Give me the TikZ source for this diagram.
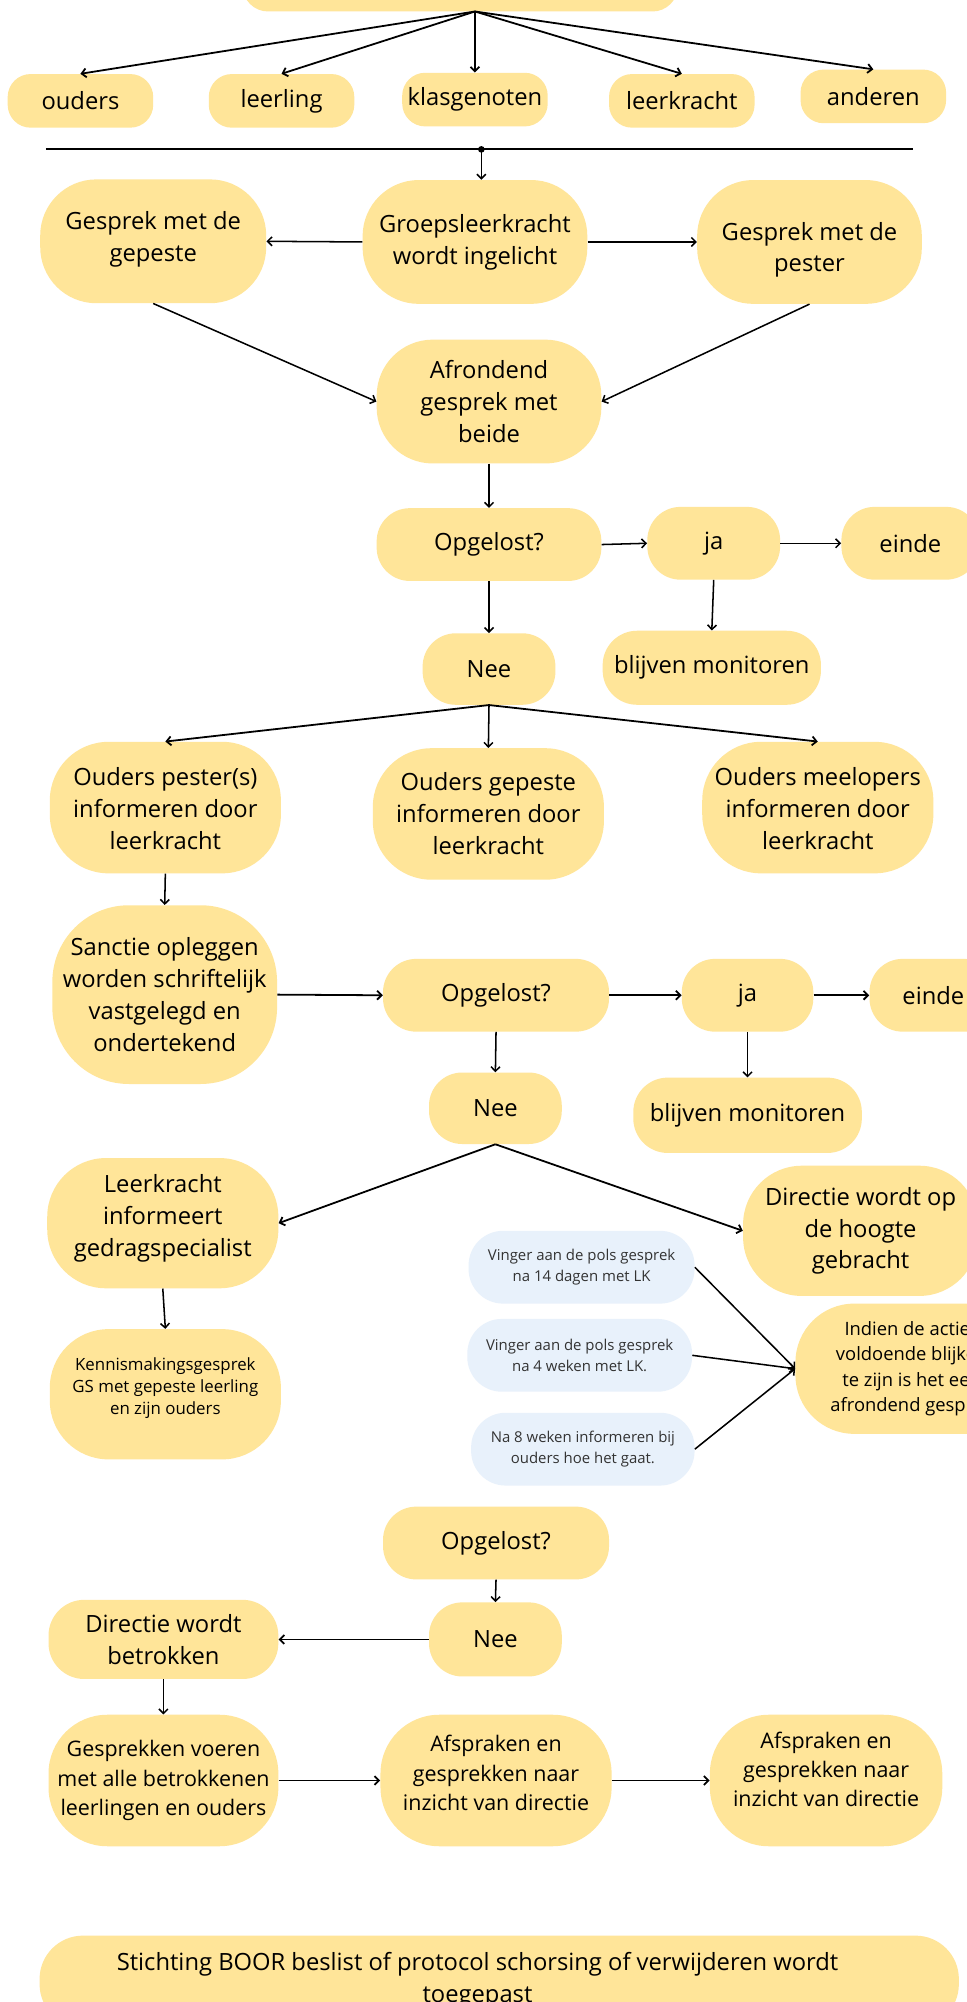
\documentclass[tikz,border=0pt]{standalone}
\usepackage{fontspec}
\setmainfont{Open Sans}
\usetikzlibrary{arrows.meta}
\definecolor{ylw}{HTML}{FFE599}
\definecolor{lblue}{HTML}{E8F1FB}
\definecolor{bluetext}{HTML}{333333}
\newcommand\fmain{\fontsize{18.6pt}{25pt}\selectfont}
\newcommand\fbottom{\fontsize{16.8pt}{23pt}\selectfont}
\newcommand\fblue{\fontsize{11.7pt}{16pt}\selectfont}
\newcommand\fkenn{\fontsize{13.2pt}{17.5pt}\selectfont}
\newcommand\findien{\fontsize{14.4pt}{19.6pt}\selectfont}
\newcommand\shiftup[2]{\raisebox{#1}[\height][\depth]{\begin{tabular}{@{}c@{}}#2\end{tabular}}}
\tikzset{
  yb/.style={fill=ylw, inner sep=0pt, align=center, font=\fmain, text=black},
  bb/.style={fill=lblue, inner sep=0pt, align=center, font=\fblue, text=bluetext},
  sz/.style n args={3}{minimum width=#1pt, minimum height=#2pt, rounded corners=#3pt},
  arr/.style={draw=black, line width=1.2pt, -{Straight Barb[length=3.5pt,width=7pt]}},
}
\begin{document}
\begin{tikzpicture}[x=1pt,y=-1pt]
\fill[white] (0,0) rectangle (757,1568);
\useasboundingbox (0,0) rectangle (757,1568);

% top box (clipped)
\node[yb, sz={341}{60}{20}] (top) at (360.5,-21) {};
\coordinate (fan) at (372,9);

% row 1
\node[yb, sz={114}{42}{18}] (ouders) at (63,79) {ouders};
\node[yb, sz={114}{42}{18}] (leerling) at (220.5,79) {leerling};
\node[yb, sz={114}{42}{18}] (klas) at (372,78) {klasgenoten};
\node[yb, sz={114}{42}{18}] (lkr) at (534,79) {leerkracht};
\node[yb, sz={114}{42}{18}] (anderen) at (684,75.5) {anderen};
\foreach \t in {ouders,leerling,klas,lkr,anderen}
  \draw[arr, line width=1.4pt] (fan) -- (\t.north);

% separator
\coordinate (sepL) at (36,117);
\coordinate (sepR) at (715,117);
\coordinate (sep) at (377,117);
\draw[line width=1.4pt] (sepL) -- (sepR);
\fill (sep) circle (2.6pt);

% row 2
\node[yb, sz={177}{97}{44}] (gepeste) at (120,189) {\shiftup{2pt}{Gesprek met de\\gepeste}};
\node[yb, sz={176}{97}{44}] (groeps) at (372,189.5) {Groepsleerkracht\\wordt ingelicht};
\node[yb, sz={176}{97}{44}] (pester) at (634,189.5) {\shiftup{-6pt}{Gesprek met de\\pester}};
\node[yb, sz={176}{97}{44}] (afr) at (383,314.5) {Afrondend\\gesprek met\\beide};
\draw[arr] (sep) -- (sep |- groeps.north);
\draw[arr] (groeps.west) -- (gepeste.east);
\draw[arr] (groeps.east) -- (pester.west);
\draw[arr] (gepeste.south) -- (afr.west);
\draw[arr] (pester.south) -- (afr.east);

% Opgelost 1
\node[yb, sz={176}{57}{26}] (op1) at (383,426.5) {Opgelost?};
\node[yb, sz={104}{57}{26}] (ja1) at (559,425.5) {ja};
\node[yb, sz={108}{57}{26}] (einde1) at (713,425.5) {einde};
\node[yb, sz={104}{56}{26}] (nee1) at (383,524) {Nee};
\node[yb, sz={171}{58}{27}] (mon1) at (557.5,523) {blijven monitoren};
\draw[arr] (afr.south) -- (op1.north);
\draw[arr] (op1.east) -- (ja1.west);
\draw[arr] (ja1.east) -- (einde1.west);
\draw[arr] (op1.south) -- (nee1.north);
\draw[arr] (ja1.south) -- (mon1.north);

% Ouders row
\node[yb, sz={181}{103}{46}] (oup) at (129.5,632.5) {\shiftup{-3pt}{Ouders pester(s)\\informeren door\\leerkracht}};
\node[yb, sz={181}{103}{46}] (oug) at (382.5,637.5) {\shiftup{-2pt}{Ouders gepeste\\informeren door\\leerkracht}};
\node[yb, sz={181}{103}{46}] (oum) at (640.5,632.5) {\shiftup{-3pt}{Ouders meelopers\\informeren door\\leerkracht}};
\draw[arr, line width=1.4pt] (nee1.south) -- (oup.north);
\draw[arr] (nee1.south) -- (oug.north);
\draw[arr, line width=1.4pt] (nee1.south) -- (oum.north);

% Sanctie row
\node[yb, sz={176}{140}{60}] (sanc) at (129,779) {Sanctie opleggen\\worden schriftelijk\\vastgelegd en\\ondertekend};
\node[yb, sz={177}{57}{26}] (op2) at (388.5,779.5) {Opgelost?};
\node[yb, sz={103}{57}{26}] (ja2) at (585.5,779.5) {ja};
\node[yb, sz={100}{57}{26}] (einde2) at (731,779.5) {einde};
\node[yb, sz={104}{56}{26}] (nee2) at (388,868) {Nee};
\node[yb, sz={179}{59}{27}] (mon2) at (585.5,873.5) {blijven monitoren};
\draw[arr] (oup.south) -- (sanc.north);
\draw[arr, line width=1.4pt] (sanc.east) -- (op2.west);
\draw[arr, line width=1.4pt] (op2.east) -- (ja2.west);
\draw[arr, line width=1.4pt] (ja2.east) -- (einde2.west);
\draw[arr] (op2.south) -- (nee2.north);
\draw[arr] (ja2.south) -- (mon2.north);

% Leerkracht / Directie
\node[yb, sz={181}{102}{46}] (lk) at (127.5,958) {\shiftup{4pt}{Leerkracht\\informeert\\gedragspecialist}};
\node[yb, sz={184}{102}{46}] (dir1) at (674,964) {Directie wordt op\\de hoogte\\gebracht};
\node[yb, sz={181}{102}{46}, font=\fkenn] (kenn) at (129.5,1092) {\shiftup{5pt}{Kennismakingsgesprek\\GS met gepeste leerling\\en zijn ouders}};
\draw[arr, line width=1.4pt] (nee2.south) -- (lk.east);
\draw[arr, line width=1.4pt] (nee2.south) -- (dir1.west);
\draw[arr] (lk.south) -- (kenn.north);

% blue boxes
\node[bb, sz={177}{57}{27}] (blue1) at (455.5,992.5) {Vinger aan de pols gesprek\\na 14 dagen met LK};
\node[bb, sz={176}{57}{27}] (blue2) at (454,1061.5) {Vinger aan de pols gesprek\\na 4 weken met LK.};
\node[bb, sz={175}{57}{27}] (blue3) at (456.5,1135) {Na 8 weken informeren bij\\ouders hoe het gaat.};
\node[yb, sz={182}{102}{46}, font=\findien] (ind) at (714,1072) {Indien de acties\\voldoende blijken\\te zijn is het een\\afrondend gesprek};
\draw[arr] (blue1.east) -- (ind.west);
\draw[arr] (blue2.east) -- (ind.west);
\draw[arr] (blue3.east) -- (ind.west);

% Opgelost 3
\node[yb, sz={177}{57}{26}] (op3) at (388.5,1208.5) {Opgelost?};
\node[yb, sz={104}{58}{26}] (nee3) at (388,1284) {Nee};
\node[yb, sz={180}{62}{28}] (dir2) at (128,1284) {Directie wordt\\betrokken};
\draw[arr] (op3.south) -- (nee3.north);
\draw[arr, line width=1.4pt] (nee3.west) -- (dir2.east);

% bottom row
\node[yb, sz={180}{103}{46}, font=\fbottom] (gesp) at (128,1394.5) {Gesprekken voeren\\met alle betrokkenen\\leerlingen en ouders};
\node[yb, sz={181}{103}{46}, font=\fbottom] (afs1) at (388.5,1394.5) {\shiftup{4pt}{Afspraken en\\gesprekken naar\\inzicht van directie}};
\node[yb, sz={182}{103}{46}, font=\fbottom] (afs2) at (647,1394.5) {\shiftup{7pt}{Afspraken en\\gesprekken naar\\inzicht van directie}};
\draw[arr] (dir2.south) -- (gesp.north);
\draw[arr, line width=1.4pt] (gesp.east) -- (afs1.west);
\draw[arr, line width=1.4pt] (afs1.east) -- (afs2.west);

% final box
\node[yb, sz={720}{72}{34}] (final) at (391,1552) {\hspace*{-34pt}\shiftup{1pt}{Stichting BOOR beslist of protocol schorsing of verwijderen wordt\\toegepast}};
\end{tikzpicture}
\end{document}
